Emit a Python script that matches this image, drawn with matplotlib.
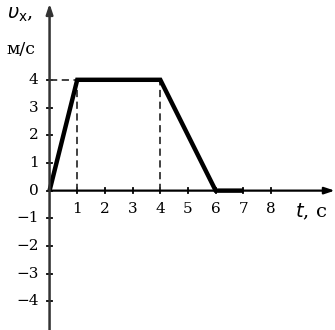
import matplotlib.pyplot as plt

# velocity graph data
t_vals = [0, 1, 4, 6, 7]
v_vals = [0, 4, 4, 0, 0]
x_ticks = [1, 2, 3, 4, 5, 6, 7, 8]
y_ticks = [-4, -3, -2, -1, 0, 1, 2, 3, 4]

plt.rcParams['font.family'] = ['DejaVu Serif']

fig = plt.figure(figsize=(3.35, 3.30), dpi=100)
ax = fig.add_axes([0, 0, 1, 1])
ax.set_xlim(-1.79, 10.31)
ax.set_ylim(-5.03, 6.88)
ax.axis('off')

# axes with arrows
ax.annotate('', xy=(10.3, 0), xytext=(0, 0),
            arrowprops=dict(arrowstyle='-|>,head_length=0.6,head_width=0.2',
                            color='black', lw=1.6, shrinkA=0, shrinkB=0))
ax.annotate('', xy=(0, 6.75), xytext=(0, -5.1),
            arrowprops=dict(arrowstyle='-|>,head_length=0.6,head_width=0.2',
                            color='#333333', lw=1.8, shrinkA=0, shrinkB=0))

# ticks
for x in x_ticks:
    ax.plot([x, x], [-0.09, 0.09], color='black', lw=1.3)
    ax.text(x, -0.4, str(x), ha='center', va='top', fontsize=11)
for y in y_ticks:
    ax.plot([-0.09, 0.09], [y, y], color='black', lw=1.3)
    label = str(y).replace('-', '\u2212')
    ax.text(-0.4, y, label, ha='right', va='center', fontsize=11)

# dashed helper lines
dash = dict(color='#333333', lw=1.3, ls=(0, (4, 2.5)))
ax.plot([0, 1], [4, 4], **dash)
ax.plot([1, 1], [0, 4], **dash)
ax.plot([4, 4], [0, 4], **dash)

# graph
ax.plot(t_vals, v_vals, color='black', lw=3.2, solid_joinstyle='miter',
        solid_capstyle='butt')

# labels
ax.text(-1.55, 6.35, r'$\upsilon_{\mathrm{x}}$,', ha='left', va='center',
        fontsize=14)
ax.text(-1.55, 5.1, 'м/с', ha='left', va='center', fontsize=12.5)
ax.text(8.85, -0.4, r'$t$, с', ha='left', va='top', fontsize=14)

plt.savefig('out.png', dpi=100)
